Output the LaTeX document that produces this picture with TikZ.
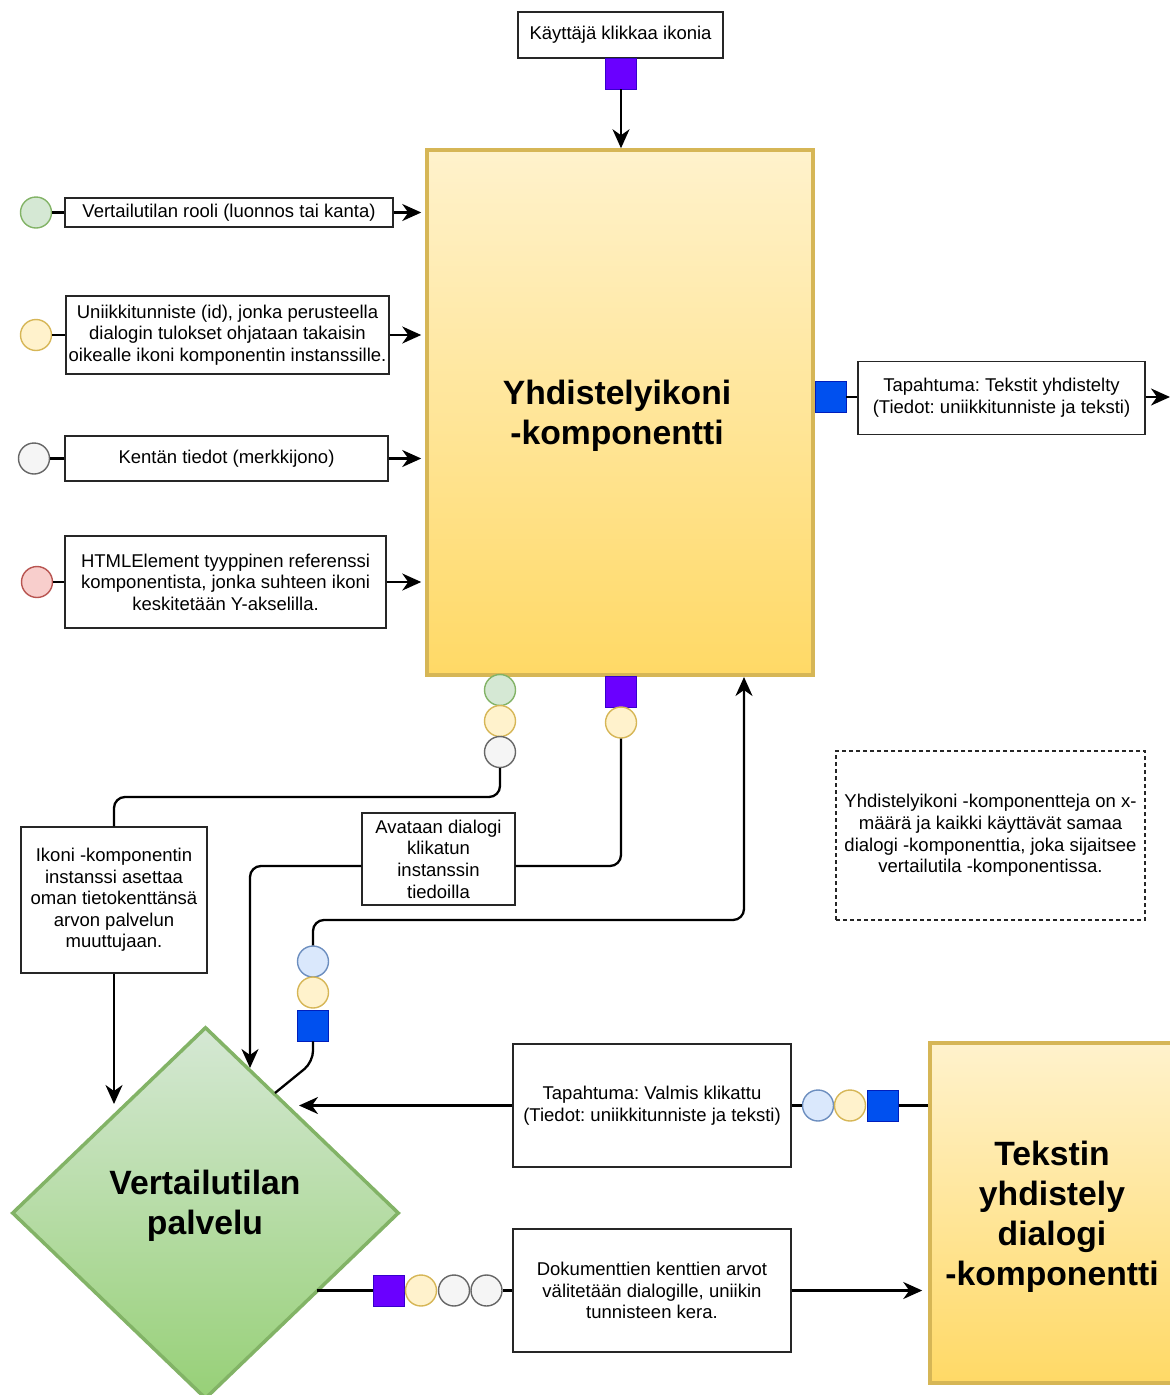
\documentclass[tikz,border=0pt]{standalone}
\usepackage{fontspec}
\setmainfont{Liberation Sans}
\usetikzlibrary{arrows.meta,shapes.geometric}
\frenchspacing

\definecolor{violetF}{HTML}{6A00FF}
\definecolor{violetD}{HTML}{3700CC}
\definecolor{cobaltF}{HTML}{0050EF}
\definecolor{cobaltD}{HTML}{001DBC}
\definecolor{greenF}{HTML}{D5E8D4}
\definecolor{greenD}{HTML}{82B366}
\definecolor{greenB}{HTML}{97D077}
\definecolor{yellowF}{HTML}{FFF2CC}
\definecolor{yellowD}{HTML}{D6B656}
\definecolor{goldB}{HTML}{FFD966}
\definecolor{greyF}{HTML}{F5F5F5}
\definecolor{greyD}{HTML}{666666}
\definecolor{redF}{HTML}{F8CECC}
\definecolor{redD}{HTML}{B85450}
\definecolor{blueF}{HTML}{DAE8FC}
\definecolor{blueD}{HTML}{6C8EBF}

\begin{document}
\begin{tikzpicture}[x=1pt,y=-1pt,
  txt/.style={font=\fontsize{18.5}{21.6}\selectfont},
  title/.style={font=\bfseries\fontsize{33.7}{40}\selectfont},
  infobox/.style={draw=black!85, line width=1.4pt, fill=white, align=center,
    inner sep=0pt, txt, minimum width=#1},
  notebox/.style={draw=black!85, line width=1.4pt, dash pattern=on 4pt off 3pt,
    align=center, inner sep=0pt, txt},
  component/.style={draw=yellowD, line width=3.5pt, top color=yellowF,
    bottom color=goldB, align=center, inner sep=0pt, title},
  service/.style={diamond, draw=greenD, line width=3.5pt, top color=greenF,
    bottom color=greenB, inner sep=0pt},
  port/.style={circle, line width=1.4pt, minimum size=31pt, inner sep=0pt},
  pgreen/.style={port, draw=greenD, fill=greenF},
  pyellow/.style={port, draw=yellowD, fill=yellowF},
  pgrey/.style={port, draw=greyD, fill=greyF},
  pred/.style={port, draw=redD, fill=redF},
  pblue/.style={port, draw=blueD, fill=blueF},
  sqviolet/.style={rectangle, draw=violetD, fill=violetF, line width=0.8pt,
    minimum size=31pt, inner sep=0pt},
  sqcobalt/.style={rectangle, draw=cobaltD, fill=cobaltF, line width=0.8pt,
    minimum size=31pt, inner sep=0pt},
  wire/.style={draw=black, line width=2.3pt, rounded corners=11pt},
  flow/.style={wire, -{Stealth[length=19pt,width=17pt,inset=6pt]}},
]
\useasboundingbox (0,0) rectangle (1170,1395);
\clip (0,0) rectangle (1170,1395);

% ---- main components ----
\node[component, minimum width=386pt, minimum height=525pt] (big1) at (620,412.5) {};
\node[title, align=center] (big1label) at (617,415.5) {Yhdistelyikoni\\-komponentti};
\node[component, minimum width=245pt, minimum height=340pt] (big2) at (1052.5,1213) {};
\node[title, align=center] (big2label) at (1052,1217)
  {Tekstin\\yhdistely\\dialogi\\-komponentti};
\node[service, minimum width=387pt, minimum height=372pt] (serv) at (205.5,1213) {};
\node[title, align=center] (servlabel) at (205,1206) {Vertailutilan\\palvelu};

% ---- trigger at the top ----
\node[infobox=205pt, minimum height=46pt] (top) at (620.5,35) {Käyttäjä klikkaa ikonia};
\node[sqviolet] (sqTop) at (621,73.5) {};
\draw[flow] (sqTop.south) -- (sqTop.south |- big1.north);

% ---- inputs on the left ----
\node[infobox=328pt, minimum height=29pt] (b1) at (229,212.5)
  {Vertailutilan rooli (luonnos tai kanta)};
\node[infobox=323pt, minimum height=78pt] (b2) at (227.5,335)
  {Uniikkitunniste (id), jonka perusteella\\dialogin tulokset ohjataan takaisin\\oikealle ikoni komponentin instanssille.};
\node[infobox=323pt, minimum height=45pt] (b3) at (226.5,458.5)
  {Kentän tiedot (merkkijono)};
\node[infobox=321pt, minimum height=92pt] (b4) at (225.5,582)
  {HTMLElement tyyppinen referenssi\\komponentista, jonka suhteen ikoni\\keskitetään Y-akselilla.};
\node[pgreen] (cL1) at (36,212.5) {};
\node[pyellow] (cL2) at (36,335) {};
\node[pgrey] (cL3) at (34,458.5) {};
\node[pred] (cL4) at (37,582) {};
\foreach \i in {1,2,3,4} {
  \draw[wire] (cL\i.east) -- (b\i.west);
  \draw[flow, shorten >=4pt] (b\i.east) -- (b\i.east -| big1.west);
}

% ---- output event on the right ----
\node[sqcobalt] (sqR) at (830.5,397) {};
\node[infobox=287pt, minimum height=73pt] (evt1) at (1001.5,398)
  {Tapahtuma: Tekstit yhdistelty\\(Tiedot: uniikkitunniste ja teksti)};
\coordinate (rout) at (1170,397);
\draw[wire] (sqR.east) -- (sqR.east -| evt1.west);
\draw[flow] (sqR.east -| evt1.east) -- (rout);

% ---- ports below the icon component ----
\node[pgreen] (cB1) at (500,690) {};
\node[pyellow] (cB2) at (500,721) {};
\node[pgrey] (cB3) at (500,752) {};
\node[sqviolet] (sqMid) at (621,691.5) {};
\node[pyellow] (cM) at (621,722.5) {};

% ---- labelled routes down to the service ----
\node[infobox=186pt, minimum height=146pt] (ikoni) at (114,900)
  {Ikoni -komponentin\\instanssi asettaa\\oman tietokenttänsä\\arvon palvelun\\muuttujaan.};
\node[infobox=153pt, minimum height=92pt] (avaa) at (438.5,859)
  {Avataan dialogi\\klikatun\\instanssin\\tiedoilla};
\coordinate (w1) at (0,797);
\coordinate (w2) at (0,866);
\coordinate (w3) at (0,920);
\coordinate (aI) at (114,1104);
\coordinate (aA) at (250,1068);
\coordinate (aB) at (744,677);
\draw[wire] (cB3.south) -- (cB3.south |- w1) -| (ikoni.north);
\draw[flow] (ikoni.south) -- (aI);
\draw[wire] (cM.south) |- (avaa.east |- w2);
\draw[flow] (avaa.west |- w2) -| (aA);

% ---- result returning from the service to the icon component ----
\node[pblue] (cLb) at (313,961.5) {};
\node[pyellow] (cLy) at (313,992.5) {};
\node[sqcobalt] (sqL) at (313,1025.5) {};
\coordinate (dP) at (275,1093);
\draw[wire] (dP) -- (313,1062) -- (sqL.south);
\draw[flow] (cLb.north) -- (cLb.north |- w3) -| (aB);

% ---- completion event from the dialog ----
\node[infobox=278pt, minimum height=123pt] (valmis) at (652,1105.5)
  {Tapahtuma: Valmis klikattu\\(Tiedot: uniikkitunniste ja teksti)};
\node[pblue] (cVb) at (818,1105.5) {};
\node[pyellow] (cVy) at (850,1105.5) {};
\node[sqcobalt] (sqV) at (883,1105.5) {};
\coordinate (aV) at (299,1105.5);
\draw[wire] (sqV.east) -- (sqV.east -| big2.west);
\draw[wire] (cVb.west) -- (valmis.east);
\draw[flow] (valmis.west) -- (aV);

% ---- field values passed to the dialog ----
\node[infobox=278pt, minimum height=123pt] (doku) at (652,1290.5)
  {Dokumenttien kenttien arvot\\välitetään dialogille, uniikin\\tunnisteen kera.};
\node[sqviolet] (sqD) at (389,1290.5) {};
\node[pyellow] (cDy) at (421,1290.5) {};
\node[pgrey] (cDg1) at (454,1290.5) {};
\node[pgrey] (cDg2) at (486.5,1290.5) {};
\coordinate (dQ) at (317,1290.5);
\draw[wire] (dQ) -- (sqD.west);
\draw[wire] (cDg2.east) -- (doku.west);
\draw[flow, shorten >=6pt] (doku.east) -- (doku.east -| big2.west);

% ---- note ----
\node[notebox, minimum width=309pt, minimum height=169pt] (note) at (990.5,835.5)
  {Yhdistelyikoni -komponentteja on x-\\määrä ja kaikki käyttävät samaa\\dialogi -komponenttia, joka sijaitsee\\vertailutila -komponentissa.};
\end{tikzpicture}
\end{document}
